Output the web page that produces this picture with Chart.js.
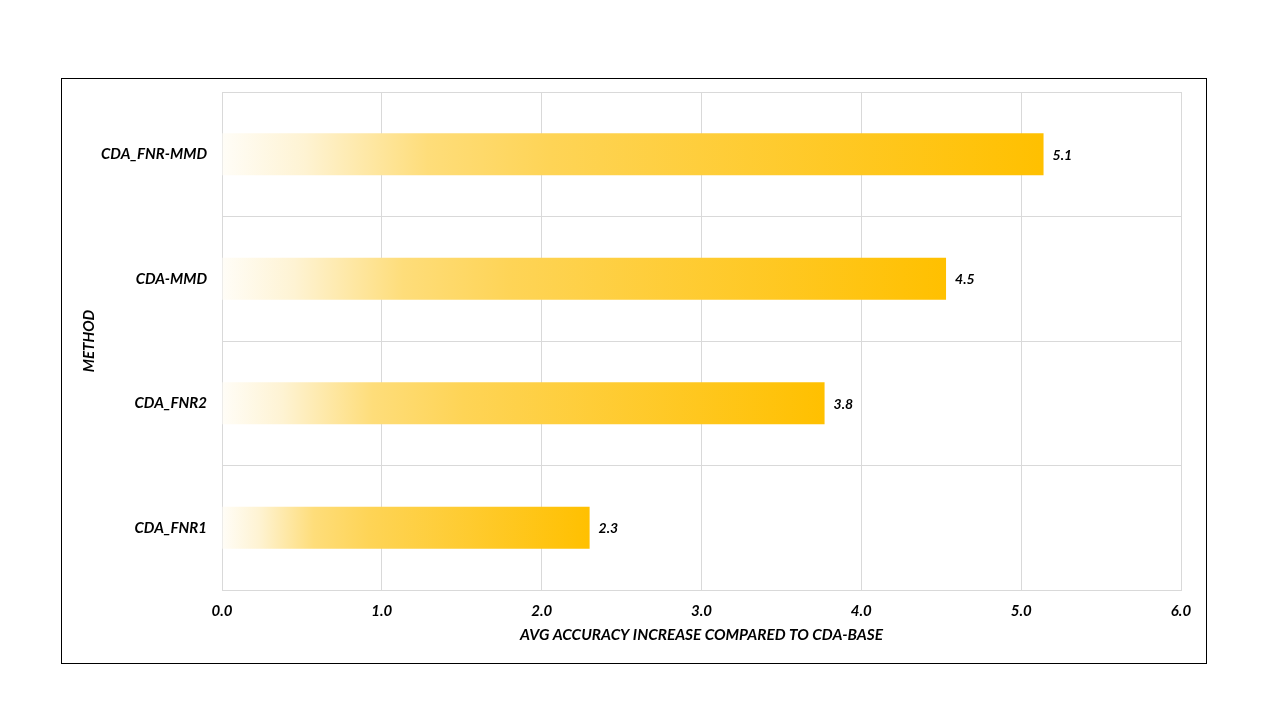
<!DOCTYPE html>
<html>
<head>
<meta charset="utf-8">
<script src="https://cdn.jsdelivr.net/npm/chart.js@4/dist/chart.umd.min.js"></script>
<style>
  html, body { margin: 0; padding: 0; background: #fff; }
  #wrap { position: relative; width: 1280px; height: 720px; }
</style>
</head>
<body>
<div id="wrap"><canvas id="chart" width="1280" height="720"></canvas></div>
<script>
const methods = ['CDA_FNR-MMD', 'CDA-MMD', 'CDA_FNR2', 'CDA_FNR1'];
const accuracyGain = [5.14, 4.53, 3.77, 2.30];
const xTicks = [0, 1, 2, 3, 4, 5, 6];

const labelFont = { family: 'Lato, "Open Sans", sans-serif', size: 15, weight: 'bold', style: 'italic' };

// gradient white -> gold along each bar
function barGradient(ctx) {
    const chart = ctx.chart;
    const xs = chart.scales.x;
    if (!xs || ctx.raw === undefined) return '#FFC000';
    const x0 = xs.getPixelForValue(0);
    const x1 = xs.getPixelForValue(ctx.raw);
    if (!isFinite(x0) || !isFinite(x1) || x1 <= x0) return '#FFC000';
    const g = chart.ctx.createLinearGradient(x0, 0, x1, 0);
    g.addColorStop(0, '#FFFDF7');
    g.addColorStop(0.1, '#FEF3D3');
    g.addColorStop(0.25, '#FEDD7A');
    g.addColorStop(0.4, '#FED456');
    g.addColorStop(1, '#FFC000');
    return g;
}

const frame = {
    id: 'frame',
    beforeDraw(chart) {
        const c = chart.ctx;
        c.save();
        c.fillStyle = '#fff';
        c.fillRect(0, 0, chart.width, chart.height);
        c.strokeStyle = '#000';
        c.lineWidth = 1;
        c.strokeRect(61.5, 78.5, 1145, 585);
        c.restore();
    }
};

const valueLabels = {
    id: 'valueLabels',
    afterDatasetsDraw(chart) {
        const c = chart.ctx;
        const meta = chart.getDatasetMeta(0);
        c.save();
        c.font = 'italic bold 14px Lato, "Open Sans", sans-serif';
        c.fillStyle = '#000';
        c.textBaseline = 'middle';
        c.textAlign = 'left';
        meta.data.forEach((bar, i) => {
            c.fillText(accuracyGain[i].toFixed(1), bar.x + 9, bar.y + 1);
        });
        c.restore();
    }
};

const chart = new Chart(document.getElementById('chart').getContext('2d'), {
    type: 'bar',
    data: {
        labels: methods,
        datasets: [{
            data: accuracyGain,
            backgroundColor: barGradient,
            borderWidth: 0,
            barPercentage: 0.336,
            categoryPercentage: 1
        }]
    },
    options: {
        indexAxis: 'y',
        responsive: false,
        animation: false,
        layout: { padding: { left: 61, top: 92, right: 99, bottom: 76 } },
        plugins: { legend: { display: false }, tooltip: { enabled: false } },
        scales: {
            x: {
                min: 0,
                max: 6,
                afterBuildTicks(scale) { scale.ticks = xTicks.map(v => ({ value: v })); },
                grid: { color: '#D9D9D9', drawTicks: false },
                border: { color: '#D9D9D9' },
                ticks: {
                    font: labelFont,
                    color: '#000',
                    padding: 12,
                    callback: v => Number(v).toFixed(1)
                },
                title: {
                    display: true,
                    text: 'AVG ACCURACY INCREASE COMPARED TO CDA-BASE',
                    font: { ...labelFont, size: 15.4 },
                    color: '#000',
                    padding: 0
                },
                afterFit(scale) { scale.height = 54; }
            },
            y: {
                grid: { color: '#D9D9D9', drawTicks: false, offset: true },
                border: { color: '#D9D9D9' },
                ticks: { font: labelFont, color: '#000', padding: 15 },
                title: {
                    display: true,
                    text: 'METHOD',
                    font: labelFont,
                    color: '#000',
                    padding: { top: 19, bottom: 0 }
                },
                afterFit(scale) { scale.width = 161; }
            }
        }
    },
    plugins: [frame, valueLabels]
});
// second pass so the gradients see the laid-out scale
chart.update();
</script>
</body>
</html>
